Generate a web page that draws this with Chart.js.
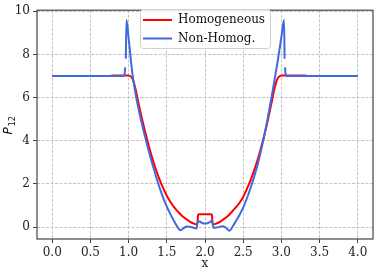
<!DOCTYPE html>
<html>
<head>
<meta charset="utf-8">
<script src="https://cdn.jsdelivr.net/npm/chart.js@4/dist/chart.umd.min.js"></script>
<style>
  html, body { margin: 0; padding: 0; background: #fff; }
  canvas { display: block; }
</style>
</head>
<body>
<canvas id="p12Chart" width="374" height="271"></canvas>
<script>
// P12 profiles along x
const homogX = [0.0, 0.75, 0.8, 1.0, 1.03, 1.06, 1.08, 1.10, 1.12, 1.15, 1.20, 1.25, 1.30, 1.35, 1.40, 1.45, 1.50, 1.55, 1.60, 1.65, 1.70, 1.75, 1.80, 1.85, 1.90, 1.91, 1.93, 2.07, 2.09, 2.10, 2.15, 2.20, 2.25, 2.30, 2.35, 2.40, 2.45, 2.50, 2.55, 2.60, 2.65, 2.70, 2.75, 2.80, 2.85, 2.88, 2.90, 2.92, 2.94, 2.97, 3.0, 3.3, 3.35, 4.0];
const homogY = [7.0, 7.0, 7.03, 7.03, 6.97, 6.8, 6.55, 6.25, 5.9, 5.4, 4.65, 3.95, 3.3, 2.75, 2.25, 1.83, 1.45, 1.15, 0.9, 0.7, 0.52, 0.38, 0.26, 0.17, 0.12, 0.58, 0.6, 0.6, 0.58, 0.12, 0.17, 0.26, 0.38, 0.52, 0.7, 0.9, 1.12, 1.4, 1.78, 2.2, 2.7, 3.25, 3.9, 4.6, 5.4, 5.9, 6.25, 6.55, 6.8, 6.97, 7.03, 7.03, 7.0, 7.0];

const nonHomX = [0.0, 0.93, 0.945, 0.955, 0.958, 0.963, 0.972, 1.0, 1.05, 1.10, 1.15, 1.20, 1.25, 1.30, 1.35, 1.40, 1.45, 1.50, 1.55, 1.60, 1.64, 1.68, 1.72, 1.76, 1.80, 1.85, 1.89, 1.905, 1.93, 1.97, 2.0, 2.03, 2.07, 2.085, 2.095, 2.11, 2.15, 2.20, 2.24, 2.28, 2.32, 2.36, 2.40, 2.45, 2.50, 2.55, 2.60, 2.65, 2.70, 2.75, 2.80, 2.85, 2.90, 2.95, 3.0, 3.035, 3.042, 3.046, 3.048, 3.057, 3.07, 4.0];
const nonHomY = [7.0, 7.0, 7.05, 7.4, null, 7.8, 9.6, 8.75, 7.1, 6.0, 5.15, 4.4, 3.7, 3.05, 2.45, 1.88, 1.38, 0.95, 0.58, 0.25, 0.0, -0.15, -0.05, 0.03, 0.02, -0.03, -0.06, 0.27, 0.26, 0.18, 0.17, 0.18, 0.25, 0.3, 0.28, -0.03, -0.02, 0.02, 0.04, -0.05, -0.17, 0.02, 0.25, 0.55, 0.9, 1.35, 1.85, 2.4, 3.05, 3.8, 4.65, 5.6, 6.6, 7.65, 8.8, 9.6, 7.8, null, 7.4, 7.05, 7.0, 7.0];

const xTicks = [0.0, 0.5, 1.0, 1.5, 2.0, 2.5, 3.0, 3.5, 4.0];
const yTicks = [0, 2, 4, 6, 8, 10];

const seriesNames = ['Homogeneous', 'Non-Homog.'];
const seriesColors = ['#ff0000', '#4169e1'];

const pairs = (xs, ys) => xs.map((x, i) => ({ x: x, y: ys[i] }));

const serif = '"DejaVu Serif", serif';

// frame, in-axes legend and mathtext-like y label
const extras = {
    id: 'extras',
    afterDraw(chart) {
        const ctx = chart.ctx;
        const a = chart.chartArea;
        ctx.save();
        ctx.strokeStyle = '#444';
        ctx.lineWidth = 1.2;
        ctx.strokeRect(a.left, a.top, a.right - a.left, a.bottom - a.top);

        // legend
        const bx = 140, by = 9, bw = 130, bh = 39;
        ctx.beginPath();
        ctx.roundRect(bx + 0.5, by + 0.5, bw, bh, 3);
        ctx.fillStyle = 'rgba(255,255,255,0.85)';
        ctx.fill();
        ctx.strokeStyle = '#d0d0d0';
        ctx.lineWidth = 1;
        ctx.stroke();
        ctx.font = '12px ' + serif;
        ctx.textBaseline = 'middle';
        ctx.fillStyle = '#111';
        seriesNames.forEach((name, i) => {
            const ly = by + 11 + i * 18.5;
            ctx.strokeStyle = seriesColors[i];
            ctx.lineWidth = 2;
            ctx.beginPath();
            ctx.moveTo(bx + 3, ly);
            ctx.lineTo(bx + 32, ly);
            ctx.stroke();
            ctx.fillText(name, bx + 38, ly);
        });

        // y label P_12
        ctx.translate(12, (a.top + a.bottom) / 2 + 1);
        ctx.rotate(-Math.PI / 2);
        ctx.textBaseline = 'alphabetic';
        ctx.font = 'italic 12px "DejaVu Sans"';
        ctx.fillText('P', -9, 0);
        ctx.font = '8.5px "DejaVu Sans"';
        ctx.fillText('12', -1, 3);
        ctx.restore();
    }
};

const gridOpts = { color: '#c4c4c4', tickLength: 4, tickColor: '#444', tickBorderDash: [] };
const borderOpts = { display: false, dash: [3, 1.5] };

const p12Ctx = document.getElementById('p12Chart').getContext('2d');
new Chart(p12Ctx, {
    type: 'line',
    data: {
        datasets: [{
            label: seriesNames[0],
            data: pairs(homogX, homogY),
            borderColor: seriesColors[0],
            borderWidth: 2,
            pointRadius: 0,
            cubicInterpolationMode: 'monotone',
            spanGaps: false,
            order: 2
        }, {
            label: seriesNames[1],
            data: pairs(nonHomX, nonHomY),
            borderColor: seriesColors[1],
            borderWidth: 2,
            pointRadius: 0,
            cubicInterpolationMode: 'monotone',
            spanGaps: false,
            order: 1
        }]
    },
    options: {
        responsive: false,
        animation: false,
        layout: { padding: { left: 0, top: 4, right: 1, bottom: 0 } },
        plugins: { legend: { display: false }, tooltip: { enabled: false } },
        scales: {
            x: {
                type: 'linear',
                min: -0.2,
                max: 4.2,
                afterBuildTicks: s => { s.ticks = xTicks.map(v => ({ value: v })); },
                afterFit: s => { s.height = 32; },
                border: borderOpts,
                grid: gridOpts,
                ticks: { color: '#222', font: { family: serif, size: 12 }, padding: 3, maxRotation: 0,
                    callback: v => v.toFixed(1) },
                title: { display: true, text: 'x', color: '#222', font: { family: serif, size: 12 }, padding: { top: 0, bottom: 0 } }
            },
            y: {
                min: -0.55,
                max: 10.05,
                afterBuildTicks: s => { s.ticks = yTicks.map(v => ({ value: v })); },
                afterFit: s => { s.width = 37; },
                border: borderOpts,
                grid: gridOpts,
                ticks: { color: '#222', font: { family: serif, size: 12 }, padding: 3,
                    callback: v => String(v) }
            }
        }
    },
    plugins: [extras]
});
</script>
</body>
</html>
